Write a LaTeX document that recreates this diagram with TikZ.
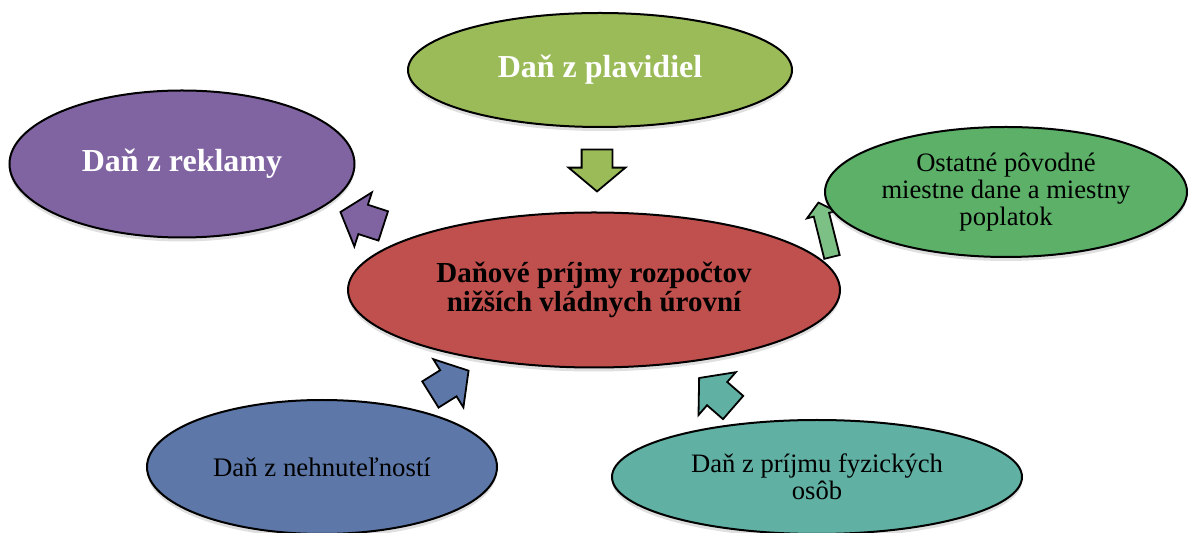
\documentclass[tikz,border=0pt]{standalone}
\usepackage{fontspec}
\setmainfont{Liberation Serif}
\usetikzlibrary{shapes.geometric,shapes.arrows,shadows}
\definecolor{rozred}{RGB}{192,80,77}
\definecolor{rozolive}{RGB}{155,187,89}
\definecolor{rozpurple}{RGB}{128,100,162}
\definecolor{rozgreen}{RGB}{92,176,104}
\definecolor{rozblue}{RGB}{93,120,168}
\definecolor{rozteal}{RGB}{96,176,164}

\begin{document}
\begin{tikzpicture}[x=0.5pt, y=-0.5pt,
      bubble/.style={ellipse, draw=black, line width=1pt, inner sep=0pt, align=center, drop shadow={opacity=0.25, shadow xshift=0pt, shadow yshift=-2pt}},
      pointer/.style={single arrow, draw=black, line width=0.9pt, inner xsep=0pt, inner ysep=7.25pt, minimum width=0pt, minimum height=22.5pt, single arrow head extend=6.5pt, single arrow tip angle=100}
    ]
      \useasboundingbox (0,0) rectangle (1188,533);

      % arrows
      \node[pointer, fill=rozolive, rotate=-90, minimum height=21pt] (sipPlav) at (597,164) {};
      \node[pointer, fill=rozpurple, rotate=162] (sipRekl) at (368,221) {};
      \node[pointer, fill=rozblue, rotate=32] (sipNehn) at (444,386) {};
      \node[pointer, fill=rozteal, rotate=139] (sipFyz) at (721,397) {};
      \node[pointer, fill=rozgreen!80!white, rotate=104, minimum height=28pt, inner ysep=3.5pt, single arrow head extend=3.5pt] (sipOst) at (826,233) {};

      % ellipses
      \node[bubble, fill=rozred, minimum width=246pt, minimum height=77.5pt, font=\bfseries\fontsize{14.5}{14.5}\selectfont] (prijmy) at (594,290) {Daňové príjmy rozpočtov\\nižších vládnych úrovní};

      \node[bubble, fill=rozolive, minimum width=192pt, minimum height=57pt, text=white, font=\bfseries\fontsize{16}{18}\selectfont] (plavidla) at (600,70) {Daň z plavidiel};

      \node[bubble, fill=rozpurple, minimum width=172.5pt, minimum height=73.5pt, text=white, font=\bfseries\fontsize{16}{18}\selectfont] (reklama) at (182,164) {Daň z reklamy};

      \node[bubble, fill=rozgreen, minimum width=181pt, minimum height=65pt, font=\fontsize{13.3}{13.5}\selectfont] (ostatne) at (1006,192) {Ostatné pôvodné\\miestne dane a miestny\\poplatok};

      \node[bubble, fill=rozblue, minimum width=175pt, minimum height=67pt, font=\fontsize{13.4}{13.5}\selectfont] (nehnut) at (322,467) {Daň z nehnuteľností};

      \node[bubble, fill=rozteal, minimum width=205pt, minimum height=57pt, font=\fontsize{13.3}{13.5}\selectfont] (fyzicke) at (817,477) {Daň z príjmu fyzických\\osôb};
    \end{tikzpicture}
\end{document}
